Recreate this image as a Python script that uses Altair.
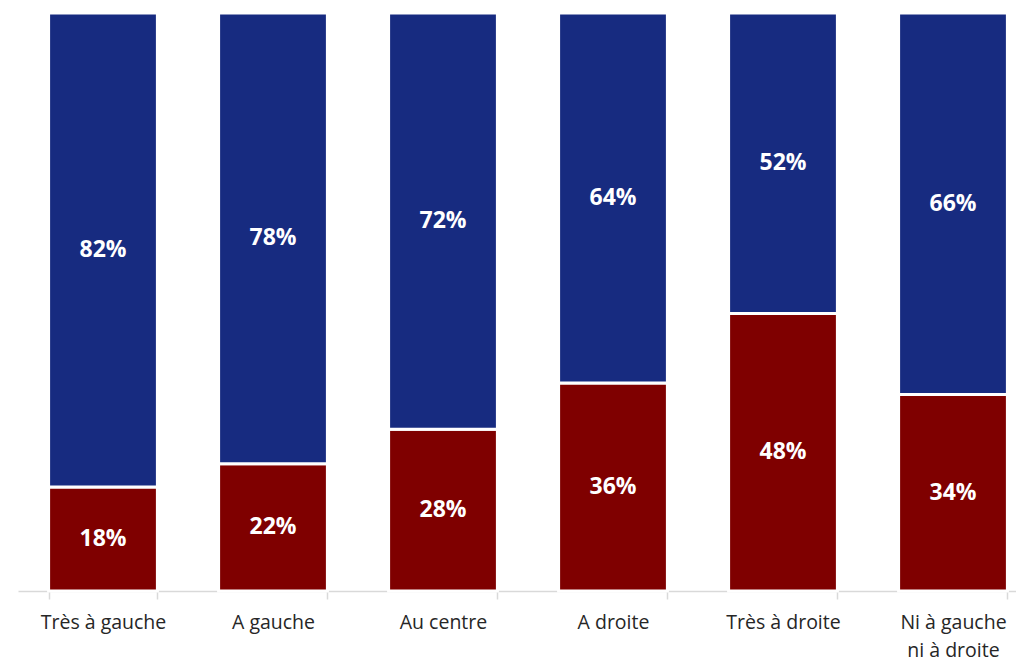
import altair as alt
import pandas as pd

categories = ["Très à gauche", "A gauche", "Au centre", "A droite", "Très à droite", "Ni à gauche\nni à droite"]
red_values = [18, 22, 28, 36, 48, 34]
blue_values = [82, 78, 72, 64, 52, 66]
series_names = ["Rouge", "Bleu"]
series_colors = ["#7f0000", "#172b80"]

rows = []
for c, r, b in zip(categories, red_values, blue_values):
    rows.append({"cat": c, "series": series_names[0], "order": 0, "value": r})
    rows.append({"cat": c, "series": series_names[1], "order": 1, "value": b})
df = pd.DataFrame(rows)

base = alt.Chart(df).transform_stack(
    stack="value", groupby=["cat"], as_=["y0", "y1"], sort=[alt.SortField("order")]
).transform_calculate(
    mid="(datum.y0 + datum.y1) / 2", lab="datum.value + '%'"
)

x = alt.X(
    "cat:N", sort=categories, title=None,
    scale=alt.Scale(paddingInner=0.36, paddingOuter=0.18, range=[0, 1020]),
    axis=alt.Axis(
        labelAngle=0, tickBand="extent", tickSize=8, tickColor="#d9d9d9",
        domainColor="#d9d9d9", domainWidth=1.5, tickWidth=1.5,
        labelFont="Open Sans", labelFontSize=19.5, labelColor="#262626",
        labelPadding=14, labelLineHeight=28,
        labelExpr="isValid(datum.value) ? split(datum.value, '\\n') : ''",
    ),
)
y = alt.Y("y0:Q", scale=alt.Scale(domain=[0, 100], nice=False), axis=None)

bars = base.mark_bar(stroke="white", strokeWidth=3).encode(
    x=x, y=y, y2="y1:Q",
    color=alt.Color("series:N", scale=alt.Scale(domain=series_names, range=series_colors), legend=None),
)
text = base.mark_text(color="white", fontWeight="bold", fontSize=23, font="Open Sans").encode(
    x=x, y=alt.Y("mid:Q", scale=alt.Scale(domain=[0, 100], nice=False), axis=None), text="lab:N"
)

chart = alt.layer(bars, text).properties(
    width=998, height=578,
    autosize=alt.AutoSizeParams(type="none"),
    padding={"left": 10, "top": 5, "right": 0, "bottom": 68},
).configure_view(stroke=None)

chart.save("out.html", embed_options={"renderer": "svg", "actions": False})
